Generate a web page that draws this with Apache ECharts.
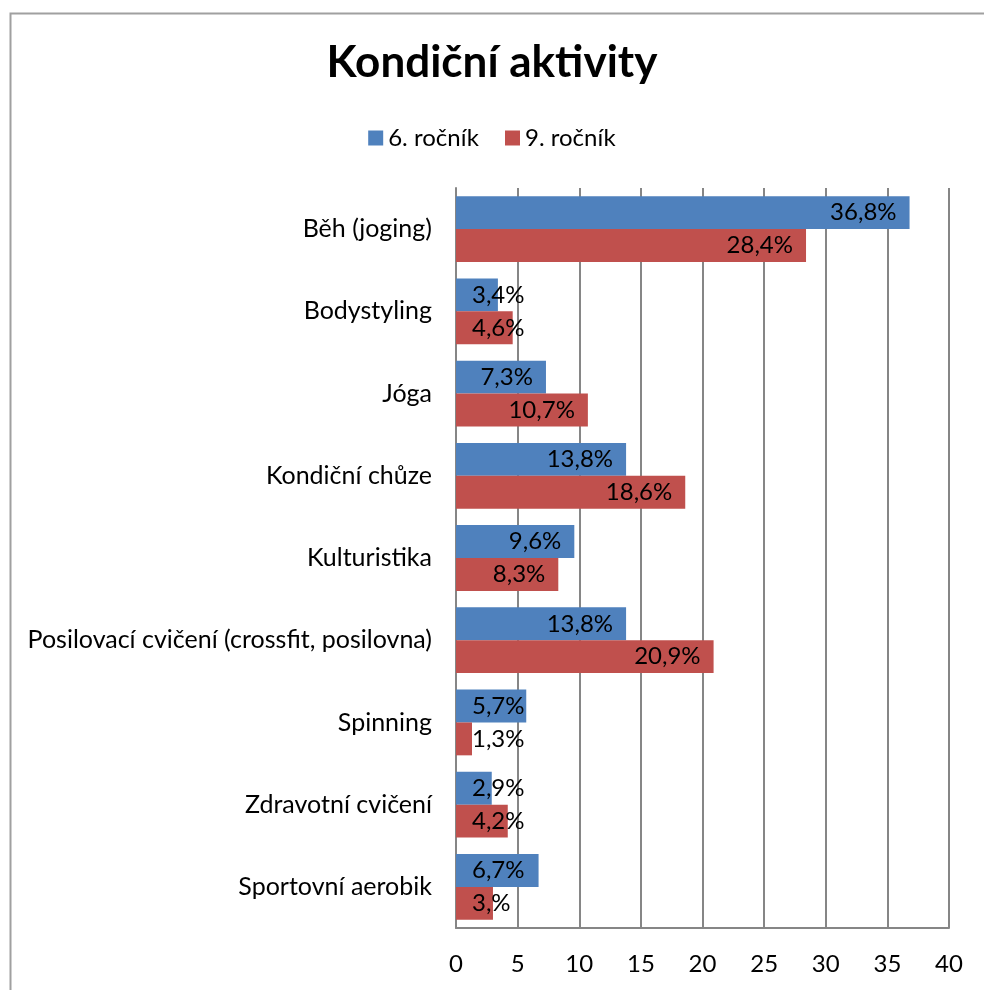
<!DOCTYPE html>
<html>
<head>
<meta charset="utf-8" />
<script src="https://cdn.jsdelivr.net/npm/echarts@6/dist/echarts.min.js"></script>
<style>
	html, body { margin: 0; padding: 0; background: #fff; }
	#main { width: 984px; height: 990px; }
</style>
</head>
<body>
<div id="main"></div>
<script type="text/javascript">
	// kategorie (shora dolu)
	var categories = ['Běh (joging)', 'Bodystyling', 'Jóga', 'Kondiční chůze', 'Kulturistika',
		'Posilovací cvičení (crossfit, posilovna)', 'Spinning', 'Zdravotní cvičení', 'Sportovní aerobik'];
	var values6 = [36.8, 3.4, 7.3, 13.8, 9.6, 13.8, 5.7, 2.9, 6.7];
	var values9 = [28.4, 4.6, 10.7, 18.6, 8.3, 20.9, 1.3, 4.2, 3.0];
	var labels6 = ['36,8%', '3,4%', '7,3%', '13,8%', '9,6%', '13,8%', '5,7%', '2,9%', '6,7%'];
	var labels9 = ['28,4%', '4,6%', '10,7%', '18,6%', '8,3%', '20,9%', '1,3%', '4,2%', '3,%'];
	var xTicks = [0, 5, 10, 15, 20, 25, 30, 35, 40];

	var font = 'Lato, "Open Sans", sans-serif';

	// popisky: kratke sloupce maji popisek prilepeny vlevo
	function makeData(vals, texts) {
		return vals.map(function (v, i) {
			var small = v < 7;
			return {
				value: v,
				label: {
					formatter: texts[i],
					position: small ? 'insideLeft' : 'insideRight',
					distance: small ? 16 : 13
				}
			};
		});
	}

	var myChart = echarts.init(document.getElementById('main'));

	var option = {
		backgroundColor: '#fff',
		animation: false,
		textStyle: { fontFamily: font },
		graphic: [{
			type: 'rect',
			shape: { x: 10.5, y: 13.5, width: 1000, height: 1000 },
			style: { fill: 'none', stroke: '#a0a0a0', lineWidth: 2 },
			silent: true
		}],
		title: {
			text: 'Kondiční aktivity',
			left: 'center',
			top: 36,
			textStyle: { fontFamily: font, fontSize: 44, fontWeight: 'bold', color: '#000' }
		},
		legend: {
			top: 121,
			left: 'center',
			itemWidth: 15,
			itemHeight: 15,
			itemGap: 26,
			icon: 'rect',
			textStyle: { fontFamily: font, fontSize: 24, color: '#000' },
			data: ['6. ročník', '9. ročník']
		},
		grid: { left: 456, right: 35, top: 188, bottom: 62 },
		xAxis: {
			type: 'value',
			min: 0,
			max: 40,
			interval: 5,
			axisLine: { show: true, lineStyle: { color: '#868686', width: 2 } },
			axisTick: { show: false },
			splitLine: { show: true, lineStyle: { color: '#868686', width: 2 } },
			axisLabel: {
				margin: 24,
				fontFamily: font,
				fontSize: 24,
				color: '#000',
				formatter: function (v) { return xTicks.indexOf(v) >= 0 ? String(v) : ''; }
			}
		},
		yAxis: {
			type: 'category',
			inverse: true,
			data: categories,
			axisLine: { show: true, lineStyle: { color: '#868686', width: 2 } },
			axisTick: { show: false },
			axisLabel: { margin: 24, fontFamily: font, fontSize: 25, color: '#000' }
		},
		series: [{
			name: '6. ročník',
			type: 'bar',
			barGap: '0%',
			barCategoryGap: '20%',
			itemStyle: { color: '#4F81BD' },
			label: { show: true, fontFamily: font, fontSize: 24, color: '#000' },
			data: makeData(values6, labels6)
		}, {
			name: '9. ročník',
			type: 'bar',
			barGap: '0%',
			barCategoryGap: '20%',
			itemStyle: { color: '#C0504D' },
			label: { show: true, fontFamily: font, fontSize: 24, color: '#000' },
			data: makeData(values9, labels9)
		}]
	};

	myChart.setOption(option);
</script>
</body>
</html>
